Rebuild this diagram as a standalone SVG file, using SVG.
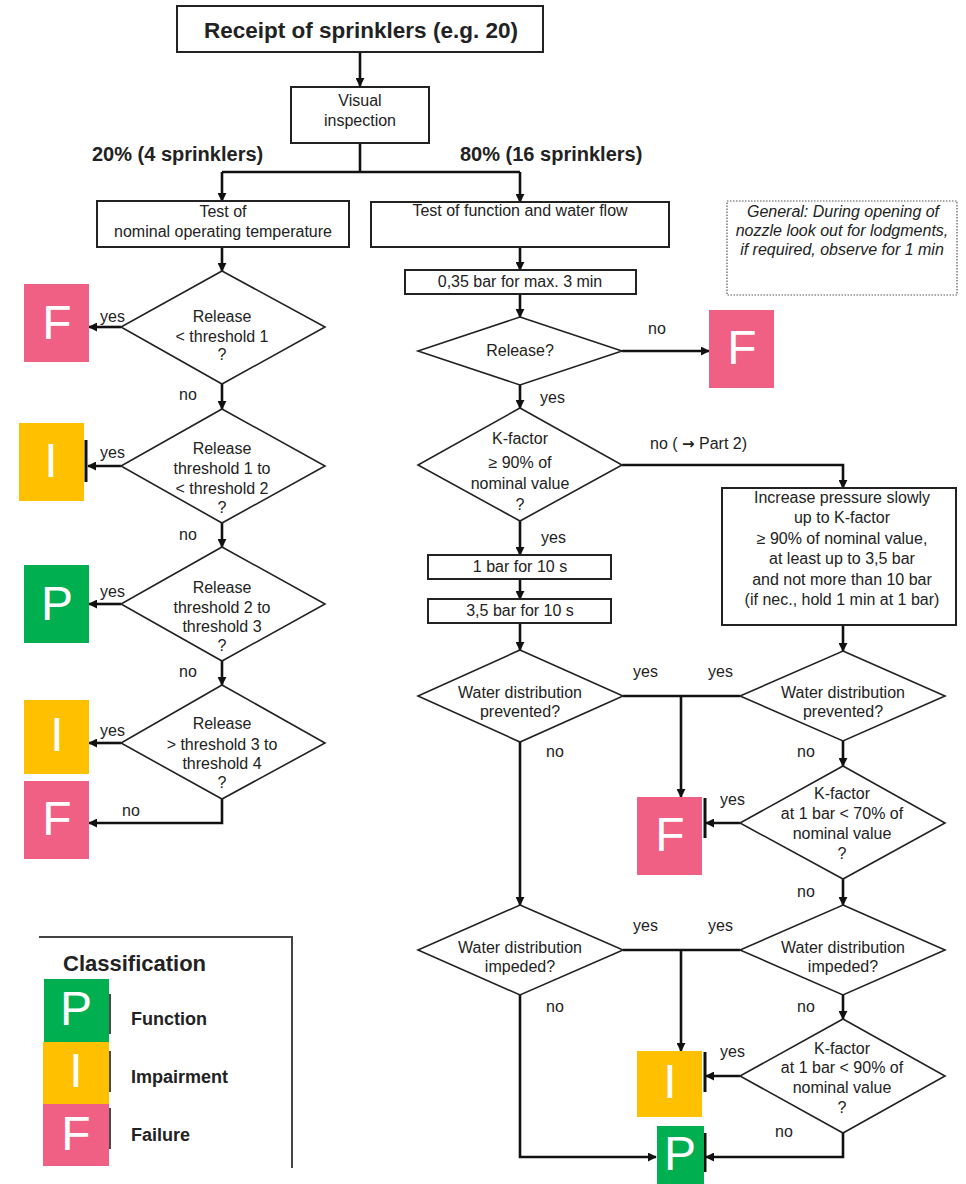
<svg xmlns="http://www.w3.org/2000/svg" width="966" height="1184" viewBox="0 0 966 1184">
<style>
text{font-family:"Liberation Sans",Arial,sans-serif;fill:#222;}
.t{font-size:16px;text-anchor:middle;}
.l{font-size:16px;}
.b{font-weight:bold;}
.it{font-size:16px;font-style:italic;text-anchor:middle;}
.box{fill:#fff;stroke:#222;stroke-width:2;}
.dia{fill:#fff;stroke:#222;stroke-width:1.6;}
.con{fill:none;stroke:#111;stroke-width:2.6;}
.bar{fill:none;stroke:#111;stroke-width:3;}
.lt{font-family:"Liberation Sans",Arial,sans-serif;fill:#fff;font-size:48px;text-anchor:middle;}
.cf{fill:#F06084;}
.ci{fill:#FFC000;}
.cp{fill:#00B050;}
</style>
<defs>
<marker id="ah" viewBox="0 0 10 10" refX="9" refY="5" markerWidth="9" markerHeight="9" markerUnits="userSpaceOnUse" orient="auto"><path d="M0,0 L10,5 L0,10 z" fill="#111"/></marker>
</defs>
<rect width="966" height="1184" fill="#fff"/>

<g id="connectors">
<path class="con" d="M360,52 V86" marker-end="url(#ah)"/>
<path class="con" d="M360,143 V172 M222,172 H520"/>
<path class="con" d="M222,172 V201" marker-end="url(#ah)"/>
<path class="con" d="M520,172 V202" marker-end="url(#ah)"/>
<path class="con" d="M222,247 V271" marker-end="url(#ah)"/>
<path class="con" d="M121,327 H89" marker-end="url(#ah)"/>
<path class="con" d="M222,384 V409" marker-end="url(#ah)"/>
<path class="con" d="M121,466 H88" marker-end="url(#ah)"/>
<path class="bar" d="M86,440 V482"/>
<path class="con" d="M222,523 V547" marker-end="url(#ah)"/>
<path class="con" d="M121,604 H89" marker-end="url(#ah)"/>
<path class="con" d="M222,661 V685" marker-end="url(#ah)"/>
<path class="con" d="M121,743 H89" marker-end="url(#ah)"/>
<path class="con" d="M222,799 V823 H89" marker-end="url(#ah)"/>

<path class="con" d="M520,247 V270" marker-end="url(#ah)"/>
<path class="con" d="M520,294 V317" marker-end="url(#ah)"/>
<path class="con" d="M622,351 H709" marker-end="url(#ah)"/>
<path class="con" d="M520,385 V408" marker-end="url(#ah)"/>
<path class="con" d="M622,465 H843 V488" marker-end="url(#ah)"/>
<path class="con" d="M520,521 V555" marker-end="url(#ah)"/>
<path class="con" d="M520,579 V599" marker-end="url(#ah)"/>
<path class="con" d="M520,623 V650" marker-end="url(#ah)"/>
<path class="con" d="M843,625 V651" marker-end="url(#ah)"/>
<path class="con" d="M623,696 H740"/>
<path class="con" d="M681,696 V797" marker-end="url(#ah)"/>
<path class="con" d="M520,742 V905" marker-end="url(#ah)"/>
<path class="con" d="M843,741 V766" marker-end="url(#ah)"/>
<path class="con" d="M740,823 H706" marker-end="url(#ah)"/>
<path class="bar" d="M705,798 V838"/>
<path class="con" d="M843,879 V905" marker-end="url(#ah)"/>
<path class="con" d="M623,950 H740"/>
<path class="con" d="M681,950 V1051" marker-end="url(#ah)"/>
<path class="con" d="M520,995 V1157 H656" marker-end="url(#ah)"/>
<path class="con" d="M843,995 V1019" marker-end="url(#ah)"/>
<path class="con" d="M740,1076 H706" marker-end="url(#ah)"/>
<path class="bar" d="M705,1052 V1092"/>
<path class="con" d="M843,1133 V1157 H706" marker-end="url(#ah)"/>
<path class="bar" d="M705,1133 V1172"/>

<text class="l" x="100" y="322">yes</text>
<text class="l" x="100" y="458">yes</text>
<text class="l" x="100" y="597">yes</text>
<text class="l" x="100" y="736">yes</text>
<text class="l" x="179" y="400">no</text>
<text class="l" x="179" y="540">no</text>
<text class="l" x="179" y="677">no</text>
<text class="l" x="122" y="816">no</text>
<text class="l" x="648" y="334">no</text>
<text class="l" x="540" y="403">yes</text>
<text class="l" x="650" y="449">no ( <tspan font-family="'DejaVu Sans',sans-serif" font-weight="bold" font-size="15">→</tspan> Part 2)</text>
<text class="l" x="541" y="543">yes</text>
<text class="l" x="633" y="677">yes</text>
<text class="l" x="708" y="677">yes</text>
<text class="l" x="546" y="757">no</text>
<text class="l" x="797" y="757">no</text>
<text class="l" x="720" y="805">yes</text>
<text class="l" x="797" y="897">no</text>
<text class="l" x="633" y="931">yes</text>
<text class="l" x="708" y="931">yes</text>
<text class="l" x="546" y="1012">no</text>
<text class="l" x="797" y="1012">no</text>
<text class="l" x="720" y="1057">yes</text>
<text class="l" x="775" y="1137">no</text>
</g>

<g id="n-receipt">
<rect class="box" x="177" y="6" width="366" height="46"/>
<text class="b" x="361" y="38" font-size="22.5" text-anchor="middle">Receipt of sprinklers (e.g. 20)</text>
</g>
<g id="n-visual">
<rect class="box" x="291" y="87" width="138" height="56"/>
<text class="t" x="360" y="106">Visual</text>
<text class="t" x="360" y="126">inspection</text>
</g>
<g id="lbl-20">
<text class="b" x="92" y="161" font-size="20">20% (4 sprinklers)</text>
</g>
<g id="lbl-80">
<text class="b" x="460" y="161" font-size="20">80% (16 sprinklers)</text>
</g>

<g id="n-nominal">
<rect class="box" x="97" y="201" width="252" height="46"/>
<text class="t" x="223" y="217">Test of</text>
<text class="t" x="223" y="237">nominal operating temperature</text>
</g>
<g id="d-rel1">
<polygon class="dia" points="222,271 325,327 222,384 121,327"/>
<text class="t" x="222" y="322">Release</text>
<text class="t" x="222" y="342">&lt; threshold 1</text>
<text class="t" x="222" y="360">?</text>
</g>
<g id="d-rel2">
<polygon class="dia" points="222,409 325,466 222,523 121,466"/>
<text class="t" x="222" y="454">Release</text>
<text class="t" x="222" y="474">threshold 1 to</text>
<text class="t" x="222" y="494">&lt; threshold 2</text>
<text class="t" x="222" y="513">?</text>
</g>
<g id="d-rel3">
<polygon class="dia" points="222,547 325,604 222,661 121,604"/>
<text class="t" x="222" y="593">Release</text>
<text class="t" x="222" y="613">threshold 2 to</text>
<text class="t" x="222" y="632">threshold 3</text>
<text class="t" x="222" y="651">?</text>
</g>
<g id="d-rel4">
<polygon class="dia" points="222,685 325,743 222,799 121,743"/>
<text class="t" x="222" y="729">Release</text>
<text class="t" x="222" y="750">&gt; threshold 3 to</text>
<text class="t" x="222" y="769">threshold 4</text>
<text class="t" x="222" y="788">?</text>
</g>
<g id="r-f1"><rect class="cf" x="24" y="284" width="65" height="78"/><text class="lt" x="57" y="339">F</text></g>
<g id="r-i1"><rect class="ci" x="19" y="423" width="65" height="78"/><text class="lt" x="51" y="477">I</text></g>
<g id="r-p1"><rect class="cp" x="24" y="565" width="65" height="78"/><text class="lt" x="57" y="620">P</text></g>
<g id="r-i2"><rect class="ci" x="24" y="700" width="65" height="74"/><text class="lt" x="57" y="751">I</text></g>
<g id="r-f2"><rect class="cf" x="24" y="781" width="65" height="78"/><text class="lt" x="57" y="835">F</text></g>

<g id="n-function">
<rect class="box" x="371" y="202" width="298" height="45"/>
<text class="t" x="520" y="216">Test of function and water flow</text>
</g>
<g id="n-note">
<rect x="727" y="201" width="230" height="94" fill="#fff" stroke="#555" stroke-width="1.2" stroke-dasharray="1.5 1.5"/>
<text class="it" x="843" y="217">General: During opening of</text>
<text class="it" x="842" y="236">nozzle look out for lodgments,</text>
<text class="it" x="842" y="255">if required, observe for 1 min</text>
</g>
<g id="n-035">
<rect class="box" x="405" y="270" width="231" height="24"/>
<text class="t" x="520" y="287">0,35 bar for max. 3 min</text>
</g>
<g id="d-release">
<polygon class="dia" points="520,317 622,351 520,385 418,351"/>
<text class="t" x="520" y="356">Release?</text>
</g>
<g id="r-f3"><rect class="cf" x="709" y="310" width="65" height="78"/><text class="lt" x="742" y="364">F</text></g>
<g id="d-kfactor">
<polygon class="dia" points="520,408 622,465 520,521 418,465"/>
<text class="t" x="520" y="444">K-factor</text>
<text class="t" x="520" y="468">≥ 90% of</text>
<text class="t" x="520" y="489">nominal value</text>
<text class="t" x="520" y="510">?</text>
</g>
<g id="n-increase">
<rect class="box" x="722" y="488" width="234" height="137"/>
<text class="t" x="842" y="503">Increase pressure slowly</text>
<text class="t" x="842" y="523">up to K-factor</text>
<text class="t" x="842" y="544">≥ 90% of nominal value,</text>
<text class="t" x="842" y="564">at least up to 3,5 bar</text>
<text class="t" x="842" y="585">and not more than 10 bar</text>
<text class="t" x="842" y="605">(if nec., hold 1 min at 1 bar)</text>
</g>
<g id="n-1bar">
<rect class="box" x="428" y="555" width="183" height="24"/>
<text class="t" x="520" y="572">1 bar for 10 s</text>
</g>
<g id="n-35bar">
<rect class="box" x="428" y="599" width="183" height="24"/>
<text class="t" x="520" y="616">3,5 bar for 10 s</text>
</g>
<g id="d-prev-l">
<polygon class="dia" points="520,650 623,696 520,742 418,696"/>
<text class="t" x="520" y="698">Water distribution</text>
<text class="t" x="520" y="717">prevented?</text>
</g>
<g id="d-prev-r">
<polygon class="dia" points="843,651 945,696 843,741 740,696"/>
<text class="t" x="843" y="698">Water distribution</text>
<text class="t" x="843" y="717">prevented?</text>
</g>
<g id="d-k70">
<polygon class="dia" points="843,766 945,823 843,879 740,823"/>
<text class="t" x="842" y="799">K-factor</text>
<text class="t" x="842" y="819">at 1 bar &lt; 70% of</text>
<text class="t" x="842" y="839">nominal value</text>
<text class="t" x="842" y="859">?</text>
</g>
<g id="r-f4"><rect class="cf" x="637" y="797" width="65" height="78"/><text class="lt" x="670" y="851">F</text></g>
<g id="d-imp-l">
<polygon class="dia" points="520,905 623,950 520,995 418,950"/>
<text class="t" x="520" y="953">Water distribution</text>
<text class="t" x="520" y="972">impeded?</text>
</g>
<g id="d-imp-r">
<polygon class="dia" points="843,905 945,950 843,995 740,950"/>
<text class="t" x="843" y="953">Water distribution</text>
<text class="t" x="843" y="972">impeded?</text>
</g>
<g id="d-k90">
<polygon class="dia" points="843,1019 945,1076 843,1133 740,1076"/>
<text class="t" x="842" y="1054">K-factor</text>
<text class="t" x="842" y="1073">at 1 bar &lt; 90% of</text>
<text class="t" x="842" y="1093">nominal value</text>
<text class="t" x="842" y="1113">?</text>
</g>
<g id="r-i3"><rect class="ci" x="637" y="1051" width="65" height="66"/><text class="lt" x="670" y="1098">I</text></g>
<g id="r-p2"><rect class="cp" x="657" y="1126" width="47" height="58"/><text class="lt" x="680" y="1170" font-size="46">P</text></g>

<g id="legend">
<path d="M39,937 H292 V1168" fill="none" stroke="#444" stroke-width="2"/>
<text class="b" x="63" y="971" font-size="22">Classification</text>
<rect class="cp" x="44" y="979" width="65" height="64"/>
<text class="lt" x="76" y="1025" font-size="50">P</text>
<rect class="ci" x="43" y="1042" width="66" height="63"/>
<text class="lt" x="76" y="1087" font-size="50">I</text>
<rect class="cf" x="43" y="1104" width="66" height="62"/>
<text class="lt" x="76" y="1150" font-size="50">F</text>
<path d="M110,994 V1034 M110,1051 V1092 M110,1108 V1149" fill="none" stroke="#111" stroke-width="1.5"/>
<text class="b" x="131" y="1025" font-size="18">Function</text>
<text class="b" x="131" y="1083" font-size="18">Impairment</text>
<text class="b" x="131" y="1141" font-size="18">Failure</text>
</g>
</svg>
